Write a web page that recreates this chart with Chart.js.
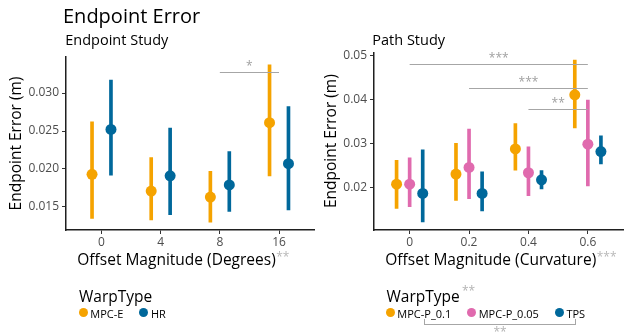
<!DOCTYPE html>
<html>
<head>
<meta charset="utf-8">
<script src="https://cdn.jsdelivr.net/npm/chart.js@4.4.1/dist/chart.umd.min.js"></script>
<style>
  html, body { margin: 0; padding: 0; background: #fff; }
  body { position: relative; width: 626px; height: 335px; overflow: hidden; font-family: "Open Sans", sans-serif; color: #000; }
  canvas { position: absolute; top: 0; }
  #cvL { left: 0; }
  #cvR { left: 313px; }
  .txt { position: absolute; line-height: 1; white-space: nowrap; }
  .lg-row { position: absolute; top: 307.5px; white-space: nowrap; font-size: 11px; line-height: 11px; }
  .lg-item { position: relative; display: inline-block; padding-left: 11.5px; margin-right: 16px; }
  .lg-dot { position: absolute; left: 0; top: 0.7px; width: 9px; height: 9px; border-radius: 50%; }
  .stars { color: #b3b3b3; font-size: 12px; }
  #lgBracket { position: absolute; top: 319.3px; height: 4.5px; border: 1px solid #a6a6a6; border-top: none; }
</style>
</head>
<body>
<canvas id="cvL" width="320" height="335"></canvas>
<canvas id="cvR" width="316" height="335"></canvas>

<div class="txt" style="left:63px; top:5.5px; font-size:20px;">Endpoint Error</div>
<div class="txt" style="left:65.3px; top:32.8px; font-size:14.5px;">Endpoint Study</div>
<div class="txt" style="left:372.3px; top:32.8px; font-size:14.5px;">Path Study</div>

<div class="txt" style="left:79px; top:288.9px; font-size:15.5px;">WarpType</div>
<div class="txt" style="left:386.5px; top:288.9px; font-size:15.5px;">WarpType</div>
<div class="txt stars" style="left:462px; top:285.3px;">**</div>

<div id="legendL"></div>
<div id="legendR"></div>
<div id="lgBracket"></div>
<div class="txt stars" id="lgBracketStars" style="top:326.3px;">**</div>

<script>
// ---- Endpoint study: error by rotation offset ----
const ENDPOINT_OFFSETS = ['0', '4', '8', '16'];
const ENDPOINT_Y_TICKS = [0.015, 0.020, 0.025, 0.030];
const ENDPOINT_TYPES = ['MPC-E', 'HR'];

const MPCE_MEAN = [0.0193, 0.0171, 0.0163, 0.0261];
const MPCE_LOW  = [0.0135, 0.0133, 0.0130, 0.0191];
const MPCE_HIGH = [0.0262, 0.0215, 0.0197, 0.0337];

const HR_MEAN = [0.0252, 0.0191, 0.0179, 0.0207];
const HR_LOW  = [0.0192, 0.0140, 0.0144, 0.0146];
const HR_HIGH = [0.0317, 0.0254, 0.0223, 0.0282];

// pairwise comparisons: offset index from -> to, bar height, significance
const ENDPOINT_SIG_FROM  = [2];
const ENDPOINT_SIG_TO    = [3];
const ENDPOINT_SIG_LEVEL = [0.0327];
const ENDPOINT_SIG_STARS = ['*'];

// ---- Path study: error by curvature offset ----
const PATH_OFFSETS = ['0', '0.2', '0.4', '0.6'];
const PATH_Y_TICKS = [0.02, 0.03, 0.04, 0.05];
const PATH_TYPES = ['MPC-P_0.1', 'MPC-P_0.05', 'TPS'];

const P01_MEAN = [0.0208, 0.0231, 0.0288, 0.0411];
const P01_LOW  = [0.0153, 0.0171, 0.0240, 0.0336];
const P01_HIGH = [0.0262, 0.0301, 0.0346, 0.0490];

const P005_MEAN = [0.0208, 0.0246, 0.0234, 0.0299];
const P005_LOW  = [0.0157, 0.0175, 0.0182, 0.0204];
const P005_HIGH = [0.0268, 0.0333, 0.0293, 0.0399];

const TPS_MEAN = [0.0187, 0.0187, 0.0218, 0.0282];
const TPS_LOW  = [0.0122, 0.0147, 0.0197, 0.0254];
const TPS_HIGH = [0.0286, 0.0236, 0.0239, 0.0318];

const PATH_SIG_FROM  = [0, 1, 2];
const PATH_SIG_TO    = [3, 3, 3];
const PATH_SIG_LEVEL = [0.0480, 0.0427, 0.0378];
const PATH_SIG_STARS = ['***', '***', '**'];

// ---- styling ----
const ORANGE = '#F5A300';
const PINK = '#E06AAE';
const BLUE = '#00689B';
const AXIS_DARK = '#1f1f1f';
const TICK_DARK = '#333';
const BRACKET_GREY = '#a6a6a6';
const STAR_GREY = '#a0a0a0';
const SUPER_GREY = '#b8b8b8';
const FONT = '"Open Sans", sans-serif';

Chart.defaults.font.family = FONT;

function seriesDatasets(name, color, mean, low, high, shift) {
  return [
    {
      type: 'bar',
      label: name + ' interval',
      data: mean.map((_, i) => ({ x: i + shift, y: [low[i], high[i]] })),
      backgroundColor: color,
      borderWidth: 0,
      grouped: false,
      barThickness: 3,
      maxBarThickness: 3,
      order: 2
    },
    {
      type: 'scatter',
      label: name,
      data: mean.map((m, i) => ({ x: i + shift, y: m })),
      backgroundColor: color,
      pointRadius: 5.5,
      pointHoverRadius: 5.5,
      pointBorderWidth: 0,
      borderWidth: 0,
      order: 1
    }
  ];
}

function sigPlugin(from, to, level, stars, xTitle, xTitleStars) {
  return {
    id: 'sigMarks',
    afterDatasetsDraw(chart) {
      const { ctx, scales: { x, y } } = chart;
      ctx.save();
      ctx.lineWidth = 1;
      ctx.strokeStyle = BRACKET_GREY;
      ctx.fillStyle = STAR_GREY;
      ctx.font = '12px ' + FONT;
      ctx.textAlign = 'center';
      ctx.textBaseline = 'alphabetic';
      level.forEach((lv, k) => {
        const x1 = x.getPixelForValue(from[k]);
        const x2 = x.getPixelForValue(to[k]);
        const yy = Math.round(y.getPixelForValue(lv)) + 0.5;
        ctx.beginPath();
        ctx.moveTo(x1, yy);
        ctx.lineTo(x2, yy);
        ctx.stroke();
        ctx.fillText(stars[k], (x1 + x2) / 2, yy - 3);
      });
      ctx.restore();
    },
    afterDraw(chart) {
      const { ctx, chartArea } = chart;
      ctx.save();
      ctx.textAlign = 'left';
      ctx.textBaseline = 'alphabetic';
      ctx.font = '15.5px ' + FONT;
      ctx.fillStyle = '#000';
      const tx = chartArea.left + 11.3;
      const ty = chartArea.bottom + 34.5;
      ctx.fillText(xTitle, tx, ty);
      const w = ctx.measureText(xTitle).width;
      ctx.font = '12px ' + FONT;
      ctx.fillStyle = SUPER_GREY;
      ctx.fillText(xTitleStars, tx + w + 0.5, ty - 4);
      ctx.restore();
    }
  };
}

function makeChart(canvas, p) {
  return new Chart(canvas, {
    type: 'scatter',
    data: { datasets: p.datasets },
    options: {
      responsive: false,
      animation: false,
      devicePixelRatio: 1,
      events: [],
      layout: { padding: { top: p.padTop, right: p.padRight, left: 0, bottom: 0 } },
      plugins: { legend: { display: false }, tooltip: { enabled: false }, title: { display: false } },
      scales: {
        x: {
          type: 'linear',
          min: -0.6,
          max: p.cats.length - 0.4,
          offset: false,
          afterBuildTicks: s => { s.ticks = p.cats.map((_, i) => ({ value: i })); },
          afterFit: s => { s.height = 105; },
          ticks: { callback: v => p.cats[v], color: '#4d4d4d', font: { size: 12 }, padding: 1, maxRotation: 0, autoSkip: false },
          grid: { offset: false, drawOnChartArea: false, drawTicks: true, tickLength: 4, lineWidth: 1, color: TICK_DARK },
          border: { display: true, color: AXIS_DARK, width: 1.5 },
          title: { display: false }
        },
        y: {
          type: 'linear',
          min: p.yMin,
          max: p.yMax,
          beginAtZero: false,
          afterBuildTicks: s => { s.ticks = p.yTicks.map(v => ({ value: v })); },
          afterFit: s => { s.width = p.yWidth; },
          ticks: { callback: v => v.toFixed(p.digits), color: '#4d4d4d', font: { size: 12 }, padding: 3 },
          grid: { offset: false, drawOnChartArea: false, drawTicks: true, tickLength: 4, lineWidth: 1, color: TICK_DARK },
          border: { display: true, color: AXIS_DARK, width: 1.5 },
          title: { display: true, text: 'Endpoint Error (m)', color: '#000', font: { size: 15.5 }, padding: { top: p.titlePad, bottom: 0 } }
        }
      }
    },
    plugins: [sigPlugin(p.sigFrom, p.sigTo, p.sigLevel, p.sigStars, p.xTitle, p.xTitleStars)]
  });
}

const DODGE_2 = [-0.16, 0.16];
const DODGE_3 = [-0.22, 0, 0.22];
const ENDPOINT_COLORS = [ORANGE, BLUE];
const PATH_COLORS = [ORANGE, PINK, BLUE];

makeChart(document.getElementById('cvL'), {
  cats: ENDPOINT_OFFSETS,
  yTicks: ENDPOINT_Y_TICKS,
  digits: 3,
  yMin: 0.01197,
  yMax: 0.03474,
  yWidth: 66,
  padTop: 57,
  padRight: 5,
  titlePad: 7.7,
  datasets: [
    ...seriesDatasets(ENDPOINT_TYPES[0], ENDPOINT_COLORS[0], MPCE_MEAN, MPCE_LOW, MPCE_HIGH, DODGE_2[0]),
    ...seriesDatasets(ENDPOINT_TYPES[1], ENDPOINT_COLORS[1], HR_MEAN, HR_LOW, HR_HIGH, DODGE_2[1])
  ],
  sigFrom: ENDPOINT_SIG_FROM, sigTo: ENDPOINT_SIG_TO, sigLevel: ENDPOINT_SIG_LEVEL, sigStars: ENDPOINT_SIG_STARS,
  xTitle: 'Offset Magnitude (Degrees)',
  xTitleStars: '**'
});

makeChart(document.getElementById('cvR'), {
  cats: PATH_OFFSETS,
  yTicks: PATH_Y_TICKS,
  digits: 2,
  yMin: 0.01039,
  yMax: 0.05077,
  yWidth: 61,
  padTop: 52.3,
  padRight: 0,
  titlePad: 9.7,
  datasets: [
    ...seriesDatasets(PATH_TYPES[0], PATH_COLORS[0], P01_MEAN, P01_LOW, P01_HIGH, DODGE_3[0]),
    ...seriesDatasets(PATH_TYPES[1], PATH_COLORS[1], P005_MEAN, P005_LOW, P005_HIGH, DODGE_3[1]),
    ...seriesDatasets(PATH_TYPES[2], PATH_COLORS[2], TPS_MEAN, TPS_LOW, TPS_HIGH, DODGE_3[2])
  ],
  sigFrom: PATH_SIG_FROM, sigTo: PATH_SIG_TO, sigLevel: PATH_SIG_LEVEL, sigStars: PATH_SIG_STARS,
  xTitle: 'Offset Magnitude (Curvature)',
  xTitleStars: '***'
});

// legends
function buildLegend(el, left, names, colors) {
  el.className = 'lg-row';
  el.style.left = left + 'px';
  return names.map((n, i) => {
    const item = document.createElement('span');
    item.className = 'lg-item';
    const dot = document.createElement('span');
    dot.className = 'lg-dot';
    dot.style.background = colors[i];
    const label = document.createElement('span');
    label.textContent = n;
    item.append(dot, label);
    el.append(item);
    return label;
  });
}

buildLegend(document.getElementById('legendL'), 78.8, ENDPOINT_TYPES, ENDPOINT_COLORS);
const pathLabels = buildLegend(document.getElementById('legendR'), 385.8, PATH_TYPES, PATH_COLORS);

// bracket joining the first and last warp types of the path study
const a = pathLabels[0].getBoundingClientRect();
const b = pathLabels[pathLabels.length - 1].getBoundingClientRect();
const bx1 = (a.left + a.right) / 2;
const bx2 = (b.left + b.right) / 2;
const br = document.getElementById('lgBracket');
br.style.left = (bx1 - 0.5) + 'px';
br.style.width = (bx2 - bx1 - 1) + 'px';
const bs = document.getElementById('lgBracketStars');
bs.style.left = ((bx1 + bx2) / 2 - bs.getBoundingClientRect().width / 2) + 'px';
</script>
</body>
</html>
